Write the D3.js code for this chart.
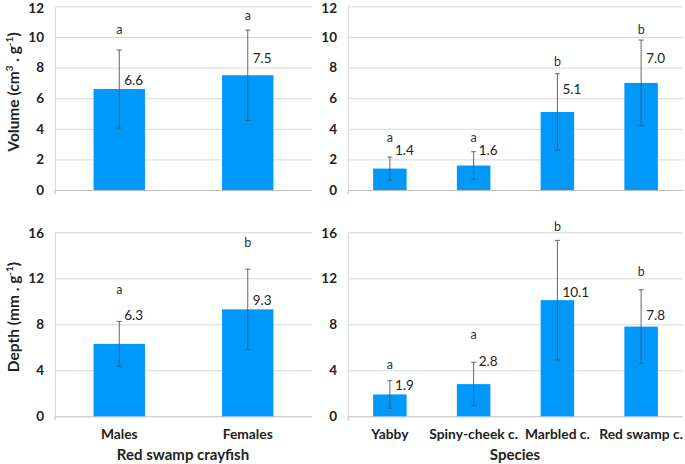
<!DOCTYPE html>
<html>
<head>
<meta charset="utf-8">
<script src="https://cdn.jsdelivr.net/npm/d3@7"></script>
<style>
  body { margin: 0; background: #fff; }
  svg { font-family: Lato, "Open Sans", sans-serif; }
</style>
</head>
<body>
<svg id="chart" width="685" height="464"></svg>
<script>
// categorias
const sexCats = ["Males", "Females"];
const speciesCats = ["Yabby", "Spiny-cheek c.", "Marbled c.", "Red swamp c."];

// volume
const sexVolume = [6.6, 7.5];
const sexVolumeErr = [2.55, 2.95];
const sexVolumeLetters = ["a", "a"];
const sexVolumeLetterAt = [10.5, 11.4];
const sexVolumeLabelAt = [7.2, 8.6];

const speciesVolume = [1.4, 1.6, 5.1, 7.0];
const speciesVolumeErr = [0.75, 0.9, 2.5, 2.8];
const speciesVolumeLetters = ["a", "a", "b", "b"];
const speciesVolumeLetterAt = [3.4, 3.4, 8.4, 10.5];
const speciesVolumeLabelAt = [2.6, 2.6, 6.6, 8.6];

// depth
const sexDepth = [6.3, 9.3];
const sexDepthErr = [1.95, 3.5];
const sexDepthLetters = ["a", "b"];
const sexDepthLetterAt = [11.0, 15.1];
const sexDepthLabelAt = [8.8, 10.1];

const speciesDepth = [1.9, 2.8, 10.1, 7.8];
const speciesDepthErr = [1.2, 1.9, 5.2, 3.2];
const speciesDepthLetters = ["a", "a", "b", "b"];
const speciesDepthLetterAt = [4.5, 7.1, 16.5, 12.6];
const speciesDepthLabelAt = [2.7, 4.75, 10.8, 8.8];

const volumeTicks = [0, 2, 4, 6, 8, 10, 12];
const depthTicks = [0, 4, 8, 12, 16];

const svg = d3.select("#chart");

function painel(opts) {
  const x = d3.scaleBand().domain(opts.cats).range([opts.x0, opts.x1]).paddingInner(0.6).paddingOuter(0.3);
  const y = d3.scaleLinear().domain([0, opts.max]).range([opts.y0, opts.y1]);
  const g = svg.append("g");

  // linhas de grade
  g.append("g")
    .attr("transform", `translate(${opts.x0},0)`)
    .call(d3.axisLeft(y).tickValues(opts.ticks).tickSize(-(opts.x1 - opts.x0)).tickFormat(""))
    .call(a => a.select(".domain").remove())
    .call(a => a.selectAll("line").attr("stroke", d => d === 0 ? "#bdbdbd" : "#d9d9d9"));

  // rótulos do eixo y
  g.append("g")
    .attr("transform", `translate(${opts.x0},0)`)
    .call(d3.axisLeft(y).tickValues(opts.ticks).tickSize(0).tickPadding(11))
    .call(a => a.select(".domain").attr("stroke", "#d9d9d9"))
    .call(a => a.selectAll("text")
      .attr("font-size", 13.5).attr("font-weight", "bold").attr("fill", "#222")
      .attr("font-family", "Lato, sans-serif")
      .attr("dy", d => d === opts.max ? "0.42em" : "0.32em"));

  g.append("line")
    .attr("x1", opts.x0).attr("x2", opts.x0)
    .attr("y1", opts.y0).attr("y2", opts.y0 + 4)
    .attr("stroke", "#bdbdbd");

  const dados = opts.cats.map((c, i) => ({
    c, v: opts.vals[i], e: opts.err[i], l: opts.letters[i], la: opts.letterAt[i], va: opts.labelAt[i]
  }));

  g.selectAll("rect.bar").data(dados).join("rect")
    .attr("class", "bar")
    .attr("x", d => x(d.c))
    .attr("width", x.bandwidth())
    .attr("y", d => y(d.v))
    .attr("height", d => y(0) - y(d.v))
    .attr("fill", "#0099fb");

  const cx = d => x(d.c) + x.bandwidth() / 2;

  const eb = g.selectAll("g.err").data(dados).join("g").attr("class", "err")
    .attr("stroke", "#555").attr("stroke-width", 0.9);
  eb.append("line").attr("x1", cx).attr("x2", cx)
    .attr("y1", d => y(d.v - d.e)).attr("y2", d => y(d.v + d.e));
  eb.append("line").attr("x1", d => cx(d) - 2.5).attr("x2", d => cx(d) + 2.5)
    .attr("y1", d => y(d.v + d.e)).attr("y2", d => y(d.v + d.e));
  eb.append("line").attr("x1", d => cx(d) - 2.5).attr("x2", d => cx(d) + 2.5)
    .attr("y1", d => y(d.v - d.e)).attr("y2", d => y(d.v - d.e));

  g.selectAll("text.letra").data(dados).join("text")
    .attr("class", "letra")
    .attr("x", cx).attr("y", d => y(d.la))
    .attr("dy", "0.35em")
    .attr("text-anchor", "middle")
    .attr("font-size", 12.5).attr("fill", "#333")
    .text(d => d.l);

  g.selectAll("text.valor").data(dados).join("text")
    .attr("class", "valor")
    .attr("x", d => cx(d) + 5).attr("y", d => y(d.va))
    .attr("dy", "0.35em")
    .attr("font-size", 13.5).attr("fill", "#222")
    .text(d => d.v.toFixed(1));

  if (opts.showCats) {
    g.selectAll("text.cat").data(dados).join("text")
      .attr("class", "cat")
      .attr("x", cx).attr("y", opts.y0 + 18)
      .attr("dy", "0.35em")
      .attr("text-anchor", "middle")
      .attr("font-size", 13.8).attr("font-weight", "bold").attr("fill", "#222")
      .text(d => d.c);
  }
  return { x, y };
}

const topo = { y0: 190, y1: 6.4 };
const baixo = { y0: 416.3, y1: 232.3 };

painel({ cats: sexCats, x0: 55, x1: 312, ...topo, max: 12, ticks: volumeTicks,
  vals: sexVolume, err: sexVolumeErr, letters: sexVolumeLetters, letterAt: sexVolumeLetterAt, labelAt: sexVolumeLabelAt });
painel({ cats: speciesCats, x0: 348, x1: 683, ...topo, max: 12, ticks: volumeTicks,
  vals: speciesVolume, err: speciesVolumeErr, letters: speciesVolumeLetters, letterAt: speciesVolumeLetterAt, labelAt: speciesVolumeLabelAt });
painel({ cats: sexCats, x0: 55, x1: 312, ...baixo, max: 16, ticks: depthTicks, showCats: true,
  vals: sexDepth, err: sexDepthErr, letters: sexDepthLetters, letterAt: sexDepthLetterAt, labelAt: sexDepthLabelAt });
painel({ cats: speciesCats, x0: 348, x1: 683, ...baixo, max: 16, ticks: depthTicks, showCats: true,
  vals: speciesDepth, err: speciesDepthErr, letters: speciesDepthLetters, letterAt: speciesDepthLetterAt, labelAt: speciesDepthLabelAt });

// títulos dos eixos
const vol = svg.append("text")
  .attr("transform", "translate(19,92) rotate(-90)")
  .attr("text-anchor", "middle")
  .attr("font-size", 15.5).attr("font-weight", "bold").attr("fill", "#222");
vol.append("tspan").text("Volume (cm");
vol.append("tspan").attr("baseline-shift", "super").attr("font-size", 10).text("3");
vol.append("tspan").text(" . g");
vol.append("tspan").attr("baseline-shift", "super").attr("font-size", 10).text("-1");
vol.append("tspan").text(")");

const dep = svg.append("text")
  .attr("transform", "translate(19,317) rotate(-90)")
  .attr("text-anchor", "middle")
  .attr("font-size", 15.5).attr("font-weight", "bold").attr("fill", "#222");
dep.append("tspan").text("Depth (mm . g");
dep.append("tspan").attr("baseline-shift", "super").attr("font-size", 10).text("-1");
dep.append("tspan").text(")");

svg.append("text")
  .attr("x", 183).attr("y", 455).attr("dy", "0.35em")
  .attr("text-anchor", "middle")
  .attr("font-size", 15).attr("font-weight", "bold").attr("fill", "#222")
  .text("Red swamp crayfish");
svg.append("text")
  .attr("x", 515).attr("y", 455).attr("dy", "0.35em")
  .attr("text-anchor", "middle")
  .attr("font-size", 15).attr("font-weight", "bold").attr("fill", "#222")
  .text("Species");
</script>
</body>
</html>
